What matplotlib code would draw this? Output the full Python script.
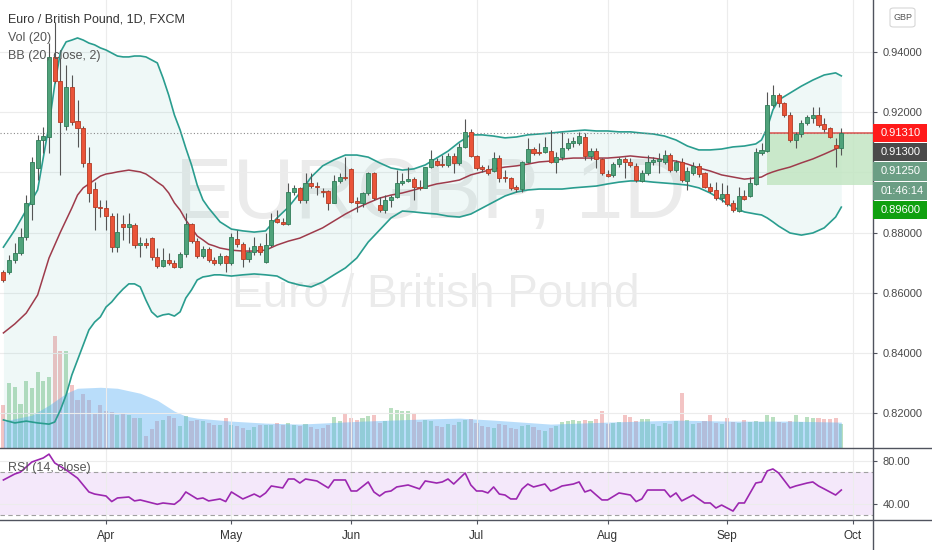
import numpy as np
import pandas as pd
import matplotlib
matplotlib.use("Agg")
import matplotlib.pyplot as plt
from matplotlib import font_manager as fm
from matplotlib.patches import Rectangle, FancyBboxPatch
from matplotlib.lines import Line2D

# ---------------------------------------------------------------- data
dates = pd.bdate_range("2020-03-06", "2020-09-29")

opens = [0.8669, 0.8669, 0.8709, 0.8732, 0.8786, 0.8895, 0.9015, 0.9108, 0.9118, 0.9384,
         0.9304, 0.9154, 0.9284, 0.9171, 0.9148, 0.9032, 0.8945, 0.8885, 0.8882, 0.8855,
         0.8752, 0.8829, 0.8819, 0.8826, 0.8759, 0.8766, 0.8782, 0.8719, 0.8689, 0.8709,
         0.8699, 0.8686, 0.8729, 0.8829, 0.8772, 0.8722, 0.8746, 0.8709, 0.8699, 0.8722,
         0.8699, 0.8779, 0.8762, 0.8713, 0.8736, 0.8756, 0.8703, 0.8759, 0.8845, 0.8836,
         0.8829, 0.8935, 0.8949, 0.8909, 0.8965, 0.8955, 0.8939, 0.8939, 0.8899, 0.8972,
         0.8985, 0.9012, 0.8905, 0.8899, 0.8932, 0.8998, 0.8892, 0.8875, 0.8909, 0.8919,
         0.8965, 0.8972, 0.8978, 0.8952, 0.8949, 0.9018, 0.9038, 0.9028, 0.9025, 0.9055,
         0.9032, 0.9085, 0.9135, 0.9055, 0.9018, 0.9012, 0.9005, 0.9048, 0.8985, 0.8982,
         0.8952, 0.8945, 0.9035, 0.9078, 0.9068, 0.9068, 0.9071, 0.9035, 0.9051, 0.9081,
         0.9098, 0.9098, 0.9118, 0.9055, 0.9071, 0.9045, 0.8995, 0.8992, 0.9028, 0.9045,
         0.9035, 0.9022, 0.8972, 0.8998, 0.9035, 0.9038, 0.9035, 0.9058, 0.9008, 0.9035,
         0.8972, 0.8998, 0.9022, 0.8998, 0.8952, 0.8942, 0.8915, 0.8929, 0.8899, 0.8872,
         0.8922, 0.8922, 0.8962, 0.9065, 0.9071, 0.9224, 0.9257, 0.9231, 0.9191, 0.9108,
         0.9128, 0.9164, 0.9181, 0.9191, 0.9161, 0.9148, 0.9091, 0.9081]
highs = [0.8676, 0.8726, 0.8766, 0.8816, 0.8925, 0.9051, 0.9125, 0.9151, 0.9430, 0.9500,
         0.9380, 0.9357, 0.9324, 0.9241, 0.9154, 0.9085, 0.8968, 0.8909, 0.8909, 0.8865,
         0.8865, 0.8859, 0.8865, 0.8832, 0.8786, 0.8782, 0.8786, 0.8749, 0.8749, 0.8732,
         0.8709, 0.8736, 0.8865, 0.8832, 0.8782, 0.8756, 0.8752, 0.8719, 0.8732, 0.8726,
         0.8799, 0.8809, 0.8769, 0.8752, 0.8786, 0.8766, 0.8799, 0.8865, 0.8875, 0.8849,
         0.8965, 0.8958, 0.8952, 0.8998, 0.8998, 0.8968, 0.8949, 0.8942, 0.8992, 0.8998,
         0.9051, 0.9015, 0.8919, 0.8935, 0.9002, 0.9002, 0.8919, 0.8925, 0.8925, 0.9008,
         0.8998, 0.9018, 0.8985, 0.8975, 0.9018, 0.9075, 0.9048, 0.9058, 0.9065, 0.9065,
         0.9098, 0.9178, 0.9145, 0.9058, 0.9025, 0.9025, 0.9068, 0.9058, 0.9008, 0.8985,
         0.8958, 0.9038, 0.9115, 0.9085, 0.9098, 0.9118, 0.9141, 0.9068, 0.9135, 0.9115,
         0.9118, 0.9135, 0.9131, 0.9081, 0.9081, 0.9048, 0.9008, 0.9035, 0.9051, 0.9051,
         0.9048, 0.9032, 0.9008, 0.9058, 0.9051, 0.9065, 0.9075, 0.9065, 0.9042, 0.9048,
         0.9018, 0.9035, 0.9032, 0.9002, 0.8965, 0.8968, 0.8965, 0.8958, 0.8909, 0.8952,
         0.8942, 0.8985, 0.9081, 0.9098, 0.9267, 0.9291, 0.9264, 0.9234, 0.9201, 0.9135,
         0.9174, 0.9191, 0.9218, 0.9218, 0.9181, 0.9151, 0.9115, 0.9148]
lows = [0.8636, 0.8663, 0.8699, 0.8726, 0.8776, 0.8842, 0.8975, 0.9065, 0.9065, 0.9297,
        0.8992, 0.9141, 0.9158, 0.9085, 0.9018, 0.8902, 0.8809, 0.8852, 0.8809, 0.8736,
        0.8736, 0.8776, 0.8766, 0.8749, 0.8719, 0.8749, 0.8709, 0.8683, 0.8686, 0.8693,
        0.8683, 0.8683, 0.8719, 0.8766, 0.8716, 0.8716, 0.8703, 0.8693, 0.8693, 0.8669,
        0.8693, 0.8752, 0.8686, 0.8703, 0.8726, 0.8726, 0.8699, 0.8752, 0.8832, 0.8826,
        0.8826, 0.8925, 0.8899, 0.8899, 0.8949, 0.8925, 0.8919, 0.8875, 0.8899, 0.8965,
        0.8975, 0.8899, 0.8869, 0.8885, 0.8925, 0.8909, 0.8869, 0.8865, 0.8885, 0.8915,
        0.8958, 0.8968, 0.8909, 0.8942, 0.8949, 0.9015, 0.9022, 0.9018, 0.9018, 0.8998,
        0.9025, 0.9081, 0.9051, 0.9008, 0.9002, 0.8992, 0.9002, 0.8968, 0.8968, 0.8942,
        0.8935, 0.8935, 0.9032, 0.9058, 0.9058, 0.9065, 0.9032, 0.8998, 0.9042, 0.9075,
        0.9085, 0.9091, 0.9042, 0.9042, 0.9015, 0.8992, 0.8985, 0.8985, 0.9018, 0.8982,
        0.9018, 0.8968, 0.8968, 0.8992, 0.9025, 0.8998, 0.9028, 0.9002, 0.9002, 0.8968,
        0.8942, 0.8992, 0.8985, 0.8949, 0.8932, 0.8909, 0.8902, 0.8889, 0.8869, 0.8869,
        0.8909, 0.8919, 0.8958, 0.9058, 0.9068, 0.9218, 0.9218, 0.9184, 0.9101, 0.9081,
        0.9118, 0.9158, 0.9164, 0.9151, 0.9135, 0.9115, 0.9018, 0.9058]
closes = [0.8643, 0.8709, 0.8732, 0.8786, 0.8899, 0.9035, 0.9108, 0.9121, 0.9384, 0.9304,
          0.9168, 0.9284, 0.9168, 0.9148, 0.9032, 0.8932, 0.8885, 0.8882, 0.8855, 0.8752,
          0.8802, 0.8819, 0.8829, 0.8759, 0.8766, 0.8759, 0.8719, 0.8689, 0.8709, 0.8699,
          0.8686, 0.8729, 0.8829, 0.8772, 0.8722, 0.8746, 0.8709, 0.8699, 0.8722, 0.8699,
          0.8786, 0.8762, 0.8713, 0.8736, 0.8756, 0.8736, 0.8759, 0.8842, 0.8836, 0.8829,
          0.8935, 0.8949, 0.8909, 0.8965, 0.8955, 0.8952, 0.8935, 0.8899, 0.8972, 0.8985,
          0.8982, 0.8902, 0.8899, 0.8932, 0.8998, 0.8915, 0.8875, 0.8909, 0.8919, 0.8965,
          0.8972, 0.8978, 0.8952, 0.8949, 0.9018, 0.9045, 0.9025, 0.9025, 0.9055, 0.9032,
          0.9085, 0.9135, 0.9055, 0.9015, 0.9012, 0.8998, 0.9048, 0.8982, 0.8982, 0.8949,
          0.8945, 0.9035, 0.9078, 0.9065, 0.9065, 0.9085, 0.9035, 0.9051, 0.9081, 0.9098,
          0.9105, 0.9121, 0.9055, 0.9071, 0.9045, 0.8998, 0.8988, 0.9028, 0.9045, 0.9035,
          0.9025, 0.8975, 0.8998, 0.9035, 0.9042, 0.9045, 0.9058, 0.9008, 0.9035, 0.8975,
          0.9005, 0.9022, 0.8995, 0.8952, 0.8939, 0.8915, 0.8929, 0.8895, 0.8875, 0.8922,
          0.8912, 0.8965, 0.9068, 0.9075, 0.9224, 0.9257, 0.9231, 0.9191, 0.9108, 0.9128,
          0.9164, 0.9184, 0.9191, 0.9158, 0.9145, 0.9118, 0.9081, 0.9131]
volume = [43, 65, 61, 44, 67, 60, 76, 67, 71, 113, 97, 97, 63, 48, 54, 48, 35, 43,
          37, 36, 33, 34, 33, 30, 30, 12, 19, 27, 28, 32, 30, 22, 32, 27, 28, 27, 25, 23,
          23, 30, 23, 22, 20, 18, 21, 23, 23, 23, 25, 23, 25, 23,
          22, 24, 21, 19, 20, 23, 31, 27, 35, 30, 28, 30, 32, 33, 25, 27, 40, 38, 37, 37,
          35, 26, 28, 27, 22, 21, 24, 23, 26, 28, 29, 25, 22, 21, 20, 24, 23, 20, 19, 22,
          23, 21, 18, 17, 20, 22, 26, 27, 28, 27, 28, 27, 29, 37, 24, 25, 26, 33, 31, 27,
          29, 29, 24, 22, 25, 24, 27, 55, 28, 24, 25, 27, 33, 25, 24, 30, 26, 25, 28, 26,
          27, 26, 33, 31, 26, 25, 27, 33, 26, 31, 30, 30, 29, 29, 30, 24]

# Bollinger band (20, close, 2) read at these bar numbers
bb_bar = [0, 2, 4, 6, 8, 9, 10, 11, 12, 13, 14, 15, 16, 17, 18, 19, 20, 21, 22, 23, 24, 25,
          26, 27, 28, 29, 30, 31, 32, 33, 34, 35, 36, 37, 38, 40, 42, 44, 46, 48, 50, 52,
          54, 56, 58, 60, 62, 64, 66, 68, 70, 72, 74, 76, 78, 80, 82, 84, 86, 88, 90, 92,
          94, 96, 98, 100, 102, 104, 106, 108, 110, 112, 114, 116, 118, 120, 122, 124, 126,
          128, 130, 132, 133, 134, 135, 136, 138, 140, 142, 144, 146, 147]
bb_upper = [0.8752, 0.8809, 0.8875, 0.8942,
            0.9158, 0.9291, 0.9400, 0.9434, 0.9440, 0.9447, 0.9440, 0.9430, 0.9424, 0.9414,
            0.9407, 0.9397, 0.9387, 0.9384, 0.9384, 0.9387, 0.9387, 0.9384, 0.9374, 0.9364,
            0.9314, 0.9257, 0.9191, 0.9141, 0.9081, 0.9025, 0.8958, 0.8909, 0.8882, 0.8859,
            0.8836,
            0.8812, 0.8806, 0.8802, 0.8806, 0.8849, 0.8885, 0.8932, 0.8985, 0.9022, 0.9042,
            0.9058, 0.9058, 0.9051, 0.9032, 0.9015, 0.9008, 0.9012, 0.9025, 0.9048, 0.9071,
            0.9101, 0.9125, 0.9125, 0.9121, 0.9115, 0.9118, 0.9125, 0.9128, 0.9131, 0.9135,
            0.9138, 0.9141, 0.9138, 0.9138, 0.9135, 0.9135, 0.9131, 0.9128, 0.9121, 0.9108,
            0.9088, 0.9075, 0.9075, 0.9078, 0.9085, 0.9088, 0.9095,
            0.9108, 0.9148, 0.9208, 0.9241, 0.9264, 0.9287, 0.9307, 0.9324, 0.9331, 0.9321]
bb_middle = [0.8467, 0.8497, 0.8533, 0.8593,
             0.8716, 0.8759, 0.8802, 0.8842, 0.8882, 0.8925, 0.8949, 0.8962, 0.8975, 0.8988,
             0.8995, 0.8998, 0.9002, 0.9005, 0.9008, 0.9005, 0.9002, 0.8995, 0.8982, 0.8968,
             0.8955, 0.8932, 0.8899, 0.8875, 0.8842, 0.8816, 0.8789, 0.8776, 0.8762, 0.8756,
             0.8749,
             0.8742, 0.8739, 0.8739, 0.8742, 0.8759, 0.8772, 0.8782, 0.8799, 0.8816, 0.8839,
             0.8862, 0.8882, 0.8899, 0.8915, 0.8925, 0.8932, 0.8942, 0.8952, 0.8962, 0.8968,
             0.8975, 0.8992, 0.9002, 0.9012, 0.9018, 0.9022, 0.9028, 0.9035, 0.9038, 0.9045,
             0.9048, 0.9048, 0.9048, 0.9048, 0.9051, 0.9055, 0.9051, 0.9048, 0.9042, 0.9038,
             0.9028, 0.9015, 0.9005, 0.8992, 0.8985, 0.8978, 0.8982,
             0.8985, 0.8995, 0.9002, 0.9008, 0.9018, 0.9032, 0.9045, 0.9061, 0.9078, 0.9091]
bb_lower = [0.8178, 0.8168, 0.8174, 0.8168,
            0.8164, 0.8171, 0.8211, 0.8261, 0.8327, 0.8377, 0.8427, 0.8477, 0.8503, 0.8520,
            0.8553, 0.8570, 0.8593, 0.8613, 0.8630, 0.8630, 0.8620, 0.8576, 0.8537, 0.8520,
            0.8527, 0.8530, 0.8523, 0.8537, 0.8583, 0.8610, 0.8643, 0.8653, 0.8656, 0.8660,
            0.8660,
            0.8656, 0.8660, 0.8663, 0.8660, 0.8656, 0.8636, 0.8626, 0.8620, 0.8636, 0.8660,
            0.8683, 0.8716, 0.8769, 0.8809, 0.8849, 0.8872, 0.8869, 0.8865, 0.8862, 0.8855,
            0.8852, 0.8862, 0.8882, 0.8902, 0.8922, 0.8935, 0.8942, 0.8945, 0.8945, 0.8945,
            0.8949, 0.8952, 0.8955, 0.8962, 0.8968, 0.8972, 0.8972, 0.8968, 0.8965, 0.8962,
            0.8958, 0.8949, 0.8932, 0.8909, 0.8885, 0.8869, 0.8862,
            0.8859, 0.8849, 0.8836, 0.8822, 0.8799, 0.8792, 0.8799, 0.8816, 0.8852, 0.8885]

# Volume moving average (20)
volma_bar = [0, 5, 8, 11, 13, 17, 20, 24, 27, 30, 32, 34, 40, 46, 52, 63, 73, 80, 86, 96,
             106, 118, 128, 138, 147]
volma = [27, 33, 43, 55, 60, 61, 60, 55, 48, 37, 32, 30, 27, 25, 24, 27, 29, 30, 28, 24,
         26, 28, 27, 27, 26]

# RSI (14, close)
rsi_bar = [0, 2, 3, 5, 7, 8, 9, 11, 13, 15, 16, 18, 19, 20, 22, 23, 24, 27, 28, 30,
           31, 32, 34, 35, 36, 38, 39, 40, 42, 44, 45, 46, 47, 49, 50, 51, 52, 53, 55, 57,
           58, 60, 61, 62, 64, 65, 66, 67, 68, 69, 71, 73, 74, 76, 77, 78, 79, 81, 82, 83,
           84, 85, 86, 87, 88, 89, 90, 91, 92, 93, 95, 96, 97, 98, 100, 101, 102, 103, 104, 105,
           106, 108, 110, 111, 112, 113, 115, 116, 117, 118, 119, 121, 123, 124, 125, 126, 128,
           129, 130, 132, 133, 134, 135, 136, 138, 139, 141, 142, 143, 144, 146, 147]
rsi = [62.3, 67.8, 69.6, 78.8, 82.5, 86.0, 77.9, 71.5, 64.0, 51.3,
       49.4, 47.6, 42.5, 45.8, 46.7, 43.1, 44.0, 40.0, 41.2, 40.0,
       44.0, 51.3, 44.9, 45.8, 43.1, 44.9, 42.5, 51.3, 44.9, 49.4,
       46.7, 50.4, 56.8, 55.0, 63.2, 63.2, 59.5, 63.2, 61.4, 55.0,
       62.3, 62.3, 52.2, 52.2, 60.5, 51.3, 47.6, 51.3, 52.2, 55.9,
       57.7, 54.1, 61.4, 59.5, 60.5, 63.2, 58.6, 68.7, 57.7, 52.2,
       52.2, 50.4, 55.9, 49.4, 48.5, 44.9, 44.9, 54.1, 58.6, 55.9,
       58.6, 52.2, 54.1, 56.8, 58.6, 60.5, 51.3, 53.1, 48.5, 44.0,
       44.0, 50.4, 48.5, 42.5, 44.9, 53.1, 53.1, 53.1, 46.7, 50.4,
       43.1, 48.5, 41.2, 41.2, 36.6, 39.3, 33.8, 41.2, 41.2, 59.5,
       60.5, 70.6, 72.4, 68.7, 55.0, 56.8, 59.5, 60.5, 56.8, 54.1,
       48.5, 53.1]

month_labels = ["Apr", "May", "Jun", "Jul", "Aug", "Sep", "Oct"]
month_dates = ["2020-04-01", "2020-05-01", "2020-06-01", "2020-07-01",
               "2020-08-01", "2020-09-01", "2020-10-01"]
price_ticks = [0.82, 0.84, 0.86, 0.88, 0.90, 0.92, 0.94]
hidden_price_ticks = [0.90]          # covered by the price tags on the scale
rsi_ticks = [40, 80]

last_price = 0.9131
pos_start = "2020-09-10"
pos_entry = 0.9131
pos_target = 0.8960
scale_tags = ["0.91310", "0.91300", "0.91250", "01:46:14", "0.89600"]

# ---------------------------------------------------------------- style
plt.rcParams['font.family'] = ['Liberation Sans', 'DejaVu Sans']
names = {f.name for f in fm.fontManager.ttflist}
if 'Liberation Sans Narrow' in names:
    wm_family, wm_size = ['Liberation Sans Narrow', 'DejaVu Sans'], 69
else:
    wm_family, wm_size = ['Liberation Sans', 'DejaVu Sans'], 62

W, H = 932, 550
RIGHT = 873
MAIN_BOT = 448
RSI_TOP, RSI_BOT = 449, 520
X = lambda px: px / W
Y = lambda py: 1 - py / H

UP_FACE, UP_EDGE = '#4fa27a', '#2f7c58'
DN_FACE, DN_EDGE = '#ea5439', '#b33b25'
WICK = '#555555'
TEAL = '#2a9d8f'
MAROON = '#9e3b4b'
GRID = '#ececec'
AXIS = '#50535e'
TXT = '#4a4a4a'

fig = plt.figure(figsize=(W / 100, H / 100), dpi=100, facecolor='white')
ax = fig.add_axes([0, Y(MAIN_BOT), RIGHT / W, MAIN_BOT / H])
axr = fig.add_axes([0, Y(RSI_BOT), RIGHT / W, (RSI_BOT - RSI_TOP) / H], sharex=ax)

x = np.arange(len(dates))
month_pos = [int(np.busday_count("2020-03-06", d)) for d in month_dates]
o, h, l, c = map(np.array, (opens, highs, lows, closes))
up = c >= o

# ---------------- volume (behind the price pane)
axv = ax.twinx()
axv.set_zorder(ax.get_zorder() - 1)
ax.patch.set_visible(False)
axv.set_ylim(0, 450)
axv.bar(x, volume, width=0.72, color=np.where(up, '#b9dfc0', '#f3c4c4'), zorder=1)
axv.fill_between(volma_bar, 0, volma, color='#64b5f6', alpha=0.45, lw=0, zorder=2)
axv.axis('off')

# ---------------- price pane
ax.yaxis.tick_right()
ax.set_xlim(-0.6, 152.56)
ax.set_ylim(0.80847, 0.95731)
for s in ax.spines.values():
    s.set_visible(False)
ax.set_axisbelow(True)
ax.set_xticks(month_pos)
ax.set_yticks(price_ticks)
ax.set_yticklabels(["" if t in hidden_price_ticks else f"{t:.5f}" for t in price_ticks])
ax.tick_params(axis='y', length=3, width=0.8, color=AXIS, labelsize=8,
               labelcolor=TXT, pad=4)
ax.tick_params(axis='x', bottom=False, labelbottom=False)
ax.grid(True, color=GRID, lw=0.8)

ax.text(430 / RIGHT, 1 - 218 / MAIN_BOT, "EURGBP, 1D", transform=ax.transAxes,
        ha='center', va='baseline', fontsize=wm_size, family=wm_family,
        color='black', alpha=0.08, zorder=0.5)
ax.text(436 / RIGHT, 1 - 307 / MAIN_BOT, "Euro / British Pound", transform=ax.transAxes,
        ha='center', va='baseline', fontsize=33, color='black', alpha=0.08, zorder=0.5)

ax.fill_between(bb_bar, bb_lower, bb_upper, color='#26a69a', alpha=0.07, lw=0, zorder=1)
ax.plot(bb_bar, bb_upper, color=TEAL, lw=1.2, zorder=2)
ax.plot(bb_bar, bb_lower, color=TEAL, lw=1.2, zorder=2)
ax.plot(bb_bar, bb_middle, color=MAROON, lw=1.1, zorder=2)

px0 = int(np.busday_count("2020-03-06", pos_start))
ax.add_patch(Rectangle((px0, pos_target), 152.56 - px0, pos_entry - pos_target,
                       facecolor='#c3e6c3', alpha=0.85, edgecolor='none', zorder=1.5))
ax.axhline(last_price, color='#8a8a8a', lw=0.8, ls=(0, (1, 2)), zorder=2.4)
ax.hlines(pos_entry, px0, 152.56, color='#d9534f', lw=1.1, zorder=2.5)

ax.vlines(x, l, h, colors=WICK, lw=0.8, zorder=3)
ax.bar(x, np.maximum(np.abs(c - o), 0.00012), bottom=np.minimum(o, c), width=0.72,
       color=np.where(up, UP_FACE, DN_FACE), edgecolor=np.where(up, UP_EDGE, DN_EDGE),
       linewidth=0.6, zorder=4)

# ---------------- RSI pane
axr.set_ylim(25.6, 90.7)
for s in axr.spines.values():
    s.set_visible(False)
axr.set_axisbelow(True)
axr.yaxis.tick_right()
axr.set_yticks(rsi_ticks)
axr.set_yticklabels([f"{t:.2f}" for t in rsi_ticks])
axr.set_xticks(month_pos)
axr.set_xticklabels(month_labels)
axr.tick_params(axis='y', length=3, width=0.8, color=AXIS, labelsize=8,
                labelcolor=TXT, pad=4)
axr.tick_params(axis='x', length=3, width=0.8, color=AXIS, labelsize=8.5,
                labelcolor='#333333', pad=4)
axr.grid(True, color=GRID, lw=0.8)
axr.axhspan(30, 70, color='#f4e8fa', zorder=0.2, lw=0)
axr.axhline(70, color='#a0a0a0', lw=0.8, ls=(0, (4, 3)), zorder=1)
axr.axhline(30, color='#a0a0a0', lw=0.8, ls=(0, (4, 3)), zorder=1)
axr.plot(rsi_bar, rsi, color='#9c27b0', lw=1.2, zorder=3)

# ---------------- frame lines
for art in [Line2D([X(RIGHT)] * 2, [0, 1], color=AXIS, lw=1),
            Line2D([0, 1], [Y(MAIN_BOT)] * 2, color=AXIS, lw=1),
            Line2D([0, 1], [Y(RSI_BOT)] * 2, color=AXIS, lw=1)]:
    art.set_transform(fig.transFigure)
    fig.add_artist(art)

# ---------------- legend texts
fig.text(X(8), Y(19), "Euro / British Pound, 1D, FXCM", ha='left', va='center',
         fontsize=9, color='#333333')
fig.text(X(8), Y(37.5), "Vol (20)", ha='left', va='center', fontsize=9, color='#555555')
fig.text(X(8), Y(56), "BB (20, close, 2)", ha='left', va='center', fontsize=9,
         color='#555555')
fig.text(X(8), Y(468), "RSI (14, close)", ha='left', va='center', fontsize=9,
         color='#555555')

# ---------------- price-scale tags
tag_rows = [(124, 142, '#ff1a1a'), (143, 161, '#4a4a4a'), (162, 181, '#6b9e84'),
            (182, 200, '#6b9e84'), (201, 219, '#10a010')]
for (t0, t1, col), txt in zip(tag_rows, scale_tags):
    fig.add_artist(Rectangle((X(RIGHT), Y(t1)), X(927) - X(RIGHT), (t1 - t0) / H,
                             transform=fig.transFigure, facecolor=col, edgecolor='none',
                             zorder=5))
    fig.text(X(881), Y((t0 + t1) / 2), txt, ha='left', va='center', fontsize=8,
             color='white', zorder=6)

fig.add_artist(FancyBboxPatch((X(890), Y(27)), X(25), 19 / H,
                              boxstyle="round,pad=0,rounding_size=0.004",
                              transform=fig.transFigure, facecolor='white',
                              edgecolor='#d6d6d6', lw=0.8, zorder=5))
fig.text(X(902.5), Y(17.5), "GBP", ha='center', va='center', fontsize=6.5,
         color='#555555', zorder=6)

fig.savefig("out.png", dpi=100)
